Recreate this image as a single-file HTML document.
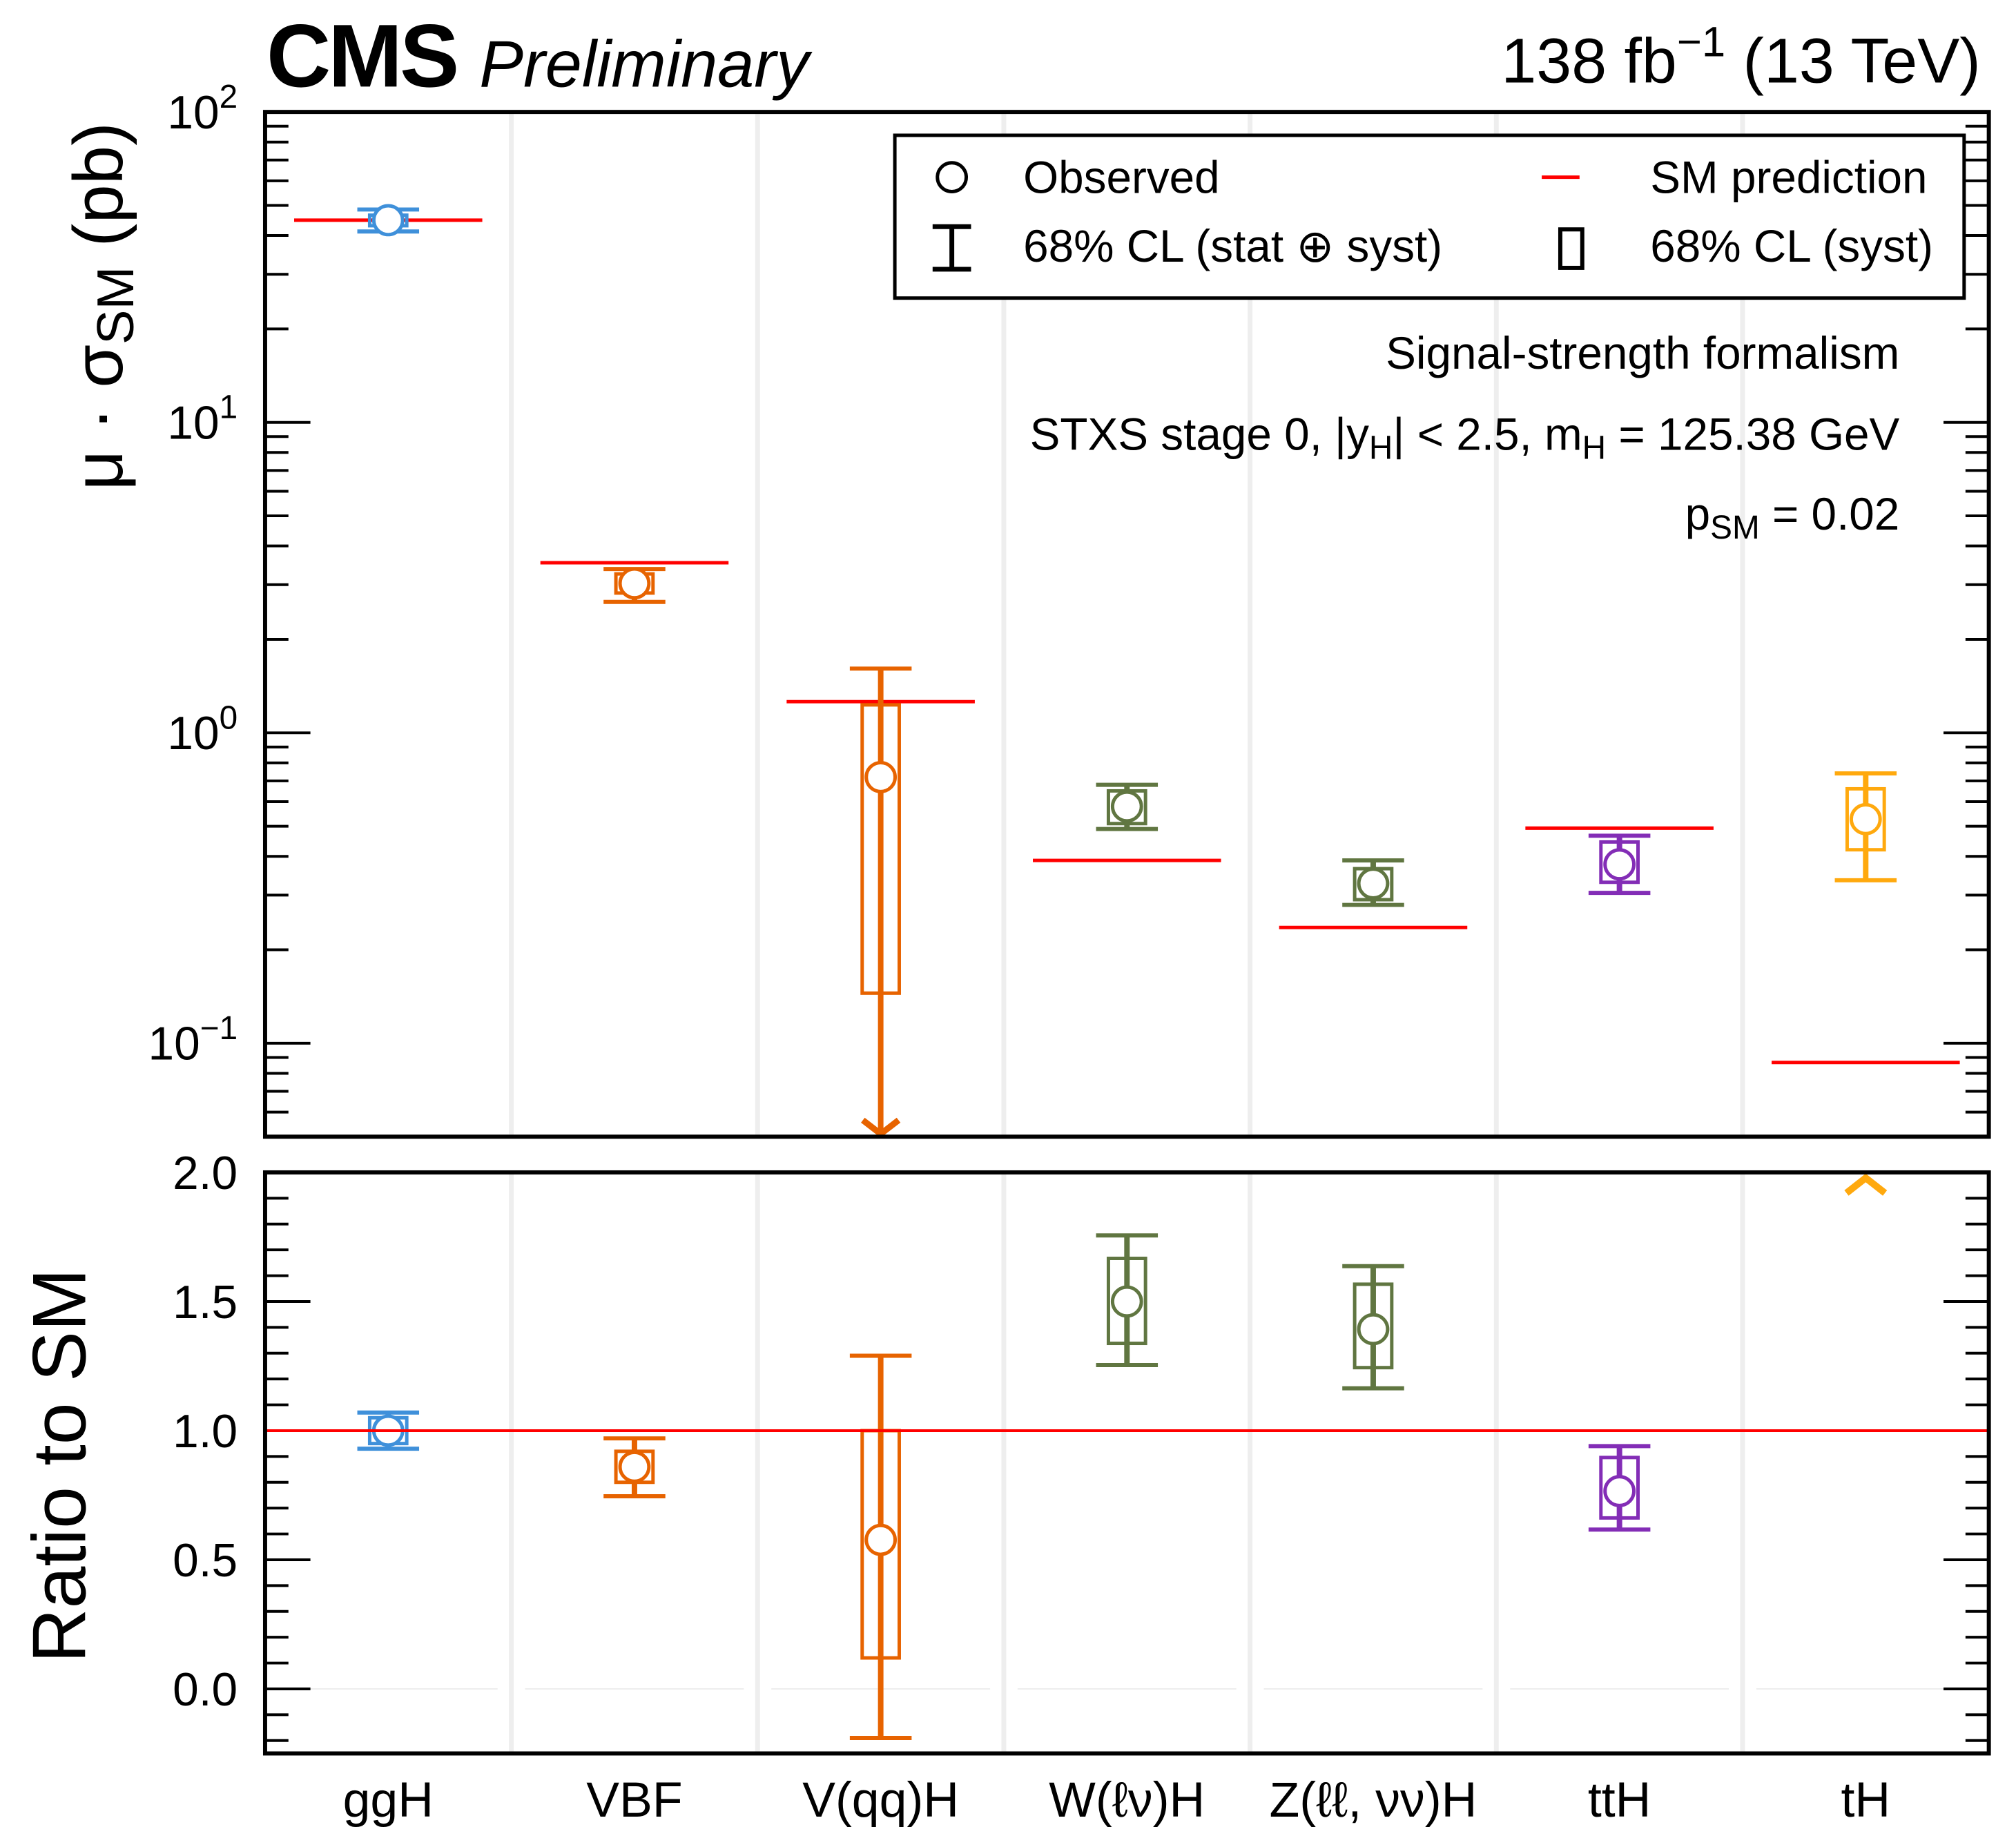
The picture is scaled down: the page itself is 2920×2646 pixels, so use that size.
<!DOCTYPE html>
<html><head><meta charset="utf-8"><style>
html,body{margin:0;padding:0;background:#fff}
svg{display:block;font-family:"Liberation Sans",Arial,sans-serif}
</style></head><body>
<svg id="chart" width="2920" height="2646" viewBox="0 0 2920 2646" xmlns="http://www.w3.org/2000/svg">
<g id="root" transform="scale(0.9947)">
<g id="grid"></g>
<g id="marks"></g>
<g id="axes"></g>
<text x="388" y="126" font-size="130" font-weight="bold" letter-spacing="-4">CMS</text>
<text x="698" y="126" font-size="96" font-style="italic">Preliminary</text>
<text x="2884" y="120" font-size="92" text-anchor="end">138 fb<tspan dy="-38" font-size="62">−1</tspan><tspan dy="38"> (13 TeV)</tspan></text>
<text transform="translate(178,446) rotate(-90)" font-size="102" text-anchor="middle">μ · σ<tspan dy="16" font-size="76">SM</tspan><tspan dy="-16"> (pb)</tspan></text>
<text transform="translate(124,2134) rotate(-90)" font-size="110" text-anchor="middle">Ratio to SM</text>
<g>
<rect x="1303" y="197" width="1557" height="237" fill="#fff" stroke="#000" stroke-width="5"/>
<circle cx="1386" cy="258" r="21" fill="#fff" stroke="#000" stroke-width="5"/>
<text x="1490" y="281" font-size="66">Observed</text>
<g stroke="#000" stroke-width="7"><line x1="1386" y1="330" x2="1386" y2="392"/><line x1="1358" y1="330" x2="1414" y2="330"/><line x1="1358" y1="392" x2="1414" y2="392"/></g>
<text x="1490" y="381" font-size="66">68% CL (stat ⊕ syst)</text>
<line x1="2245" y1="258" x2="2300" y2="258" stroke="#f00" stroke-width="5"/>
<text x="2403" y="281" font-size="66">SM prediction</text>
<rect x="2272" y="334" width="32" height="56" fill="none" stroke="#000" stroke-width="6"/>
<text x="2403" y="381" font-size="66">68% CL (syst)</text>
</g>
<text x="2766" y="537" font-size="66" text-anchor="end">Signal-strength formalism</text>
<text x="2766" y="655" font-size="66" text-anchor="end">STXS stage 0, |y<tspan dy="13" font-size="48">H</tspan><tspan dy="-13">| &lt; 2.5, m</tspan><tspan dy="13" font-size="48">H</tspan><tspan dy="-13"> = 125.38 GeV</tspan></text>
<text x="2766" y="771" font-size="66" text-anchor="end">p<tspan dy="13" font-size="48">SM</tspan><tspan dy="-13"> = 0.02</tspan></text>
</g>
</svg>
<script>
const categories = ["ggH","VBF","V(qq)H","W(ℓν)H","Z(ℓℓ, νν)H","ttH","tH"];
const smXsec = [44.8, 3.53, 1.26, 0.388, 0.236, 0.493, 0.0867];
const obsXsec = [44.8, 3.03, 0.72, 0.579, 0.327, 0.377, 0.527];
const errHi = [48.5, 3.37, 1.61, 0.68, 0.388, 0.466, 0.74];
const errLo = [41.2, 2.64, 0.01, 0.49, 0.279, 0.305, 0.335];
const systHi = [46.5, 3.25, 1.23, 0.65, 0.365, 0.445, 0.66];
const systLo = [43.0, 2.82, 0.145, 0.51, 0.29, 0.33, 0.42];
const ratioObs = [1.0, 0.86, 0.577, 1.50, 1.393, 0.766, 6.1];
const ratioErrHi = [1.07, 0.97, 1.29, 1.756, 1.637, 0.94, 8.5];
const ratioErrLo = [0.93, 0.746, -0.19, 1.254, 1.164, 0.617, 3.9];
const ratioSystHi = [1.05, 0.92, 1.0, 1.667, 1.567, 0.896, 7.5];
const ratioSystLo = [0.95, 0.80, 0.12, 1.338, 1.244, 0.662, 4.6];
const colors = ["#3f90da","#e76300","#e76300","#607641","#607641","#832db6","#ffa90e"];
const logTicks = [0.1, 1, 10, 100];
const logTickExp = ["−1","0","1","2"];
const ratioTicks = [0.0, 0.5, 1.0, 1.5, 2.0];
const ratioTickLabels = ["0.0","0.5","1.0","1.5","2.0"];

const NS="http://www.w3.org/2000/svg";
const L=386, R=2896, T1=163, B1=1655, T2=1707, B2=2553;
const yMinLog=0.05, yMaxLog=100, rMin=-0.25, rMax=2.0;
const bw=(R-L)/categories.length;
const xC=i=>L+bw*(i+0.5);
const yLog=v=>B1-(Math.log10(v)-Math.log10(yMinLog))/(Math.log10(yMaxLog)-Math.log10(yMinLog))*(B1-T1);
const yR=v=>B2-(v-rMin)/(rMax-rMin)*(B2-T2);
function mk(tag,attrs,parent){const e=document.createElementNS(NS,tag);for(const k in attrs)e.setAttribute(k,attrs[k]);parent.appendChild(e);return e;}
const grid=document.getElementById('grid'), marks=document.getElementById('marks'), axes=document.getElementById('axes');

for(let i=1;i<categories.length;i++){
  const x=L+bw*i;
  const g1=mk('line',{x1:x,y1:T1,x2:x,y2:B1,stroke:'#eeeeee','stroke-width':7},grid);
  
  
  const g2=mk('line',{x1:x,y1:T2,x2:x,y2:B2,stroke:'#eeeeee','stroke-width':7},grid);
  
  
}
for(let i=0;i<categories.length;i++){
  const z=mk('line',{x1:L+bw*i+20,y1:yR(0),x2:L+bw*(i+1)-20,y2:yR(0),stroke:'#eeeeee','stroke-width':2},grid);
  
  
}

for(let i=0;i<categories.length;i++){
  const s=mk('line',{x1:xC(i)-137,y1:yLog(smXsec[i]),x2:xC(i)+137,y2:yLog(smXsec[i]),stroke:'#f00','stroke-width':5},marks);
  
  
}

function drawPoint(i,yf,obs,eh,el,sh,sl,top,bot,panel){
  const c=colors[i], x=xC(i);
  const g=mk('g',{},marks);
  
  
  const yeh=yf(eh), yel=yf(el), ysh=yf(sh), ysl=yf(sl), yo=yf(obs);
  const a=Math.max(top,yeh), b=Math.min(bot,yel);
  if(yo>=top && yo<=bot){
    const bt=Math.max(top,ysh), bb=Math.min(bot,ysl);
    mk('rect',{x:x-27,y:bt,width:54,height:Math.max(0,bb-bt),fill:'none',stroke:c,'stroke-width':5},g);
    mk('line',{x1:x,y1:a,x2:x,y2:b,stroke:c,'stroke-width':8},g);
    if(yeh>=top) mk('line',{x1:x-45,y1:yeh,x2:x+45,y2:yeh,stroke:c,'stroke-width':6},g);
    if(yel<=bot) mk('line',{x1:x-45,y1:yel,x2:x+45,y2:yel,stroke:c,'stroke-width':6},g);
    else mk('path',{d:`M${x-26},${bot-24} L${x},${bot-4} L${x+26},${bot-24}`,fill:'none',stroke:c,'stroke-width':9},g);
    mk('circle',{cx:x,cy:yo,r:21,fill:'#fff',stroke:c,'stroke-width':5},g);
  } else if(yo<top){
    mk('path',{d:`M${x-28},${top+30} L${x},${top+8} L${x+28},${top+30}`,fill:'none',stroke:c,'stroke-width':10},g);
  }
}
for(let i=0;i<categories.length;i++){
  drawPoint(i,yLog,obsXsec[i],errHi[i],errLo[i],systHi[i],systLo[i],T1,B1,'top');
  drawPoint(i,yR,ratioObs[i],ratioErrHi[i],ratioErrLo[i],ratioSystHi[i],ratioSystLo[i],T2,B2,'ratio');
}

const f1=mk('rect',{x:L,y:T1,width:R-L,height:B1-T1,fill:'none',stroke:'#000','stroke-width':6},axes);


const f2=mk('rect',{x:L,y:T2,width:R-L,height:B2-T2,fill:'none',stroke:'#000','stroke-width':6},axes);



function tick(y,len){
  mk('line',{x1:L,y1:y,x2:L+len,y2:y,stroke:'#000','stroke-width':4},axes);
  mk('line',{x1:R,y1:y,x2:R-len,y2:y,stroke:'#000','stroke-width':4},axes);
}
for(let e=-2;e<=2;e++){
  for(let m=1;m<=9;m++){
    const v=m*Math.pow(10,e);
    if(v<yMinLog||v>yMaxLog) continue;
    tick(yLog(v), m===1?66:34);
  }
}
logTicks.forEach((v,k)=>{
  const t=mk('text',{x:L-40,y:yLog(v)+24,'font-size':68,'text-anchor':'end'},axes);
  
  
  t.textContent='10';
  const sp=mk('tspan',{dy:-30,'font-size':48},t);
  sp.textContent=logTickExp[k];
});
for(let k=-2;k<=20;k++){
  const v=k/10;
  if(v<rMin-1e-9||v>rMax+1e-9) continue;
  tick(yR(v), (k%5===0)?66:34);
}
const rl=mk('line',{x1:L+3,y1:yR(1),x2:R-3,y2:yR(1),stroke:'#f00','stroke-width':4},axes);


ratioTicks.forEach((v,k)=>{
  const t=mk('text',{x:L-40,y:yR(v)+24,'font-size':68,'text-anchor':'end'},axes);
  
  
  t.textContent=ratioTickLabels[k];
});
categories.forEach((c,i)=>{
  const t=mk('text',{x:xC(i),y:B2+92,'font-size':72,'text-anchor':'middle'},axes);
  
  
  t.textContent=c;
});
</script>
</body></html>
